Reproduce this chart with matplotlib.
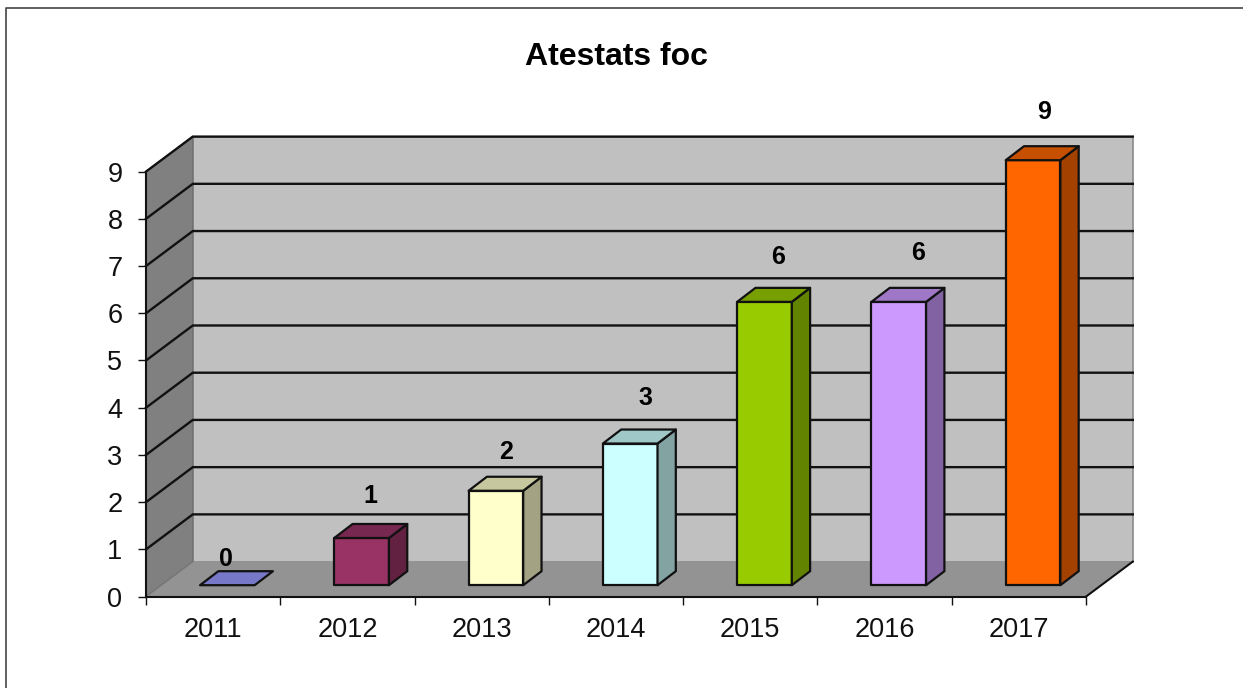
import matplotlib
matplotlib.use('Agg')
import matplotlib.pyplot as plt
from matplotlib.lines import Line2D
from matplotlib.patches import Polygon
from matplotlib.colors import to_rgb

plt.rcParams['font.family'] = ['Liberation Sans', 'DejaVu Sans']

# Data
years = ['2011', '2012', '2013', '2014', '2015', '2016', '2017']
values = [0, 1, 2, 3, 6, 6, 9]
colors = ['#7878c8', '#993366', '#ffffcc', '#ccffff', '#99cc00', '#cc99ff', '#ff6600']

# Pixel size of the picture and of the front face of the axes
W, H = 1243, 688
X0, X1, Y0, Y9 = 146, 1086, 596.6, 171.6

# Depth of the fake 3D box and of the bars, in data units
DX = 46.8 / ((X1 - X0) / 7)
DY = 35 / ((Y0 - Y9) / 9)
BAR_W = 0.407
BAR_X = 14.2 / ((X1 - X0) / 7)
BAR_Y = 11.4 / ((Y0 - Y9) / 9)
BAR_DX = 18.3 / ((X1 - X0) / 7)
BAR_DY = 14 / ((Y0 - Y9) / 9)

# Label nudges in pixels, measured from the front top centre of each bar
label_dx = [-1, 9, 10, 15, 14, 19, 11]
label_dy = [26, 42, 39, 46, 45, 49, 48]

fig = plt.figure(figsize=(W / 100, H / 100), dpi=100)
ax = fig.add_axes([X0 / W, (H - Y0) / H, (X1 - X0) / W, (Y0 - Y9) / H])
ax.set_xlim(0, 7)
ax.set_ylim(0, 9)
ax.patch.set_visible(False)


def poly(pts, face, edge='none', lw=0.0, z=1):
    ax.add_patch(Polygon(pts, closed=True, facecolor=face, edgecolor=edge,
                         linewidth=lw, zorder=z, clip_on=False, joinstyle='round'))


def shade(c, f):
    return tuple(v * f for v in to_rgb(c))


# Walls and floor
poly([(DX, DY), (7 + DX, DY), (7 + DX, 9 + DY), (DX, 9 + DY)], '#c0c0c0', '#8a8a8a', 1.2)
poly([(0, 0), (DX, DY), (DX, 9 + DY), (0, 9)], '#808080', '#707070', 1.0)
poly([(0, 0), (7, 0), (7 + DX, DY), (DX, DY)], '#939393')

# Gridlines run along the left wall and then the back wall
for v in range(1, 10):
    ax.plot([0, DX, 7 + DX], [v, v + DY, v + DY], color='#111111', lw=1.7,
            zorder=2, clip_on=False, solid_joinstyle='miter')
ax.plot([7, 7 + DX], [0, DY], color='#111111', lw=1.5, zorder=2, clip_on=False)
ax.plot([0, DX], [0, DY], color='#777777', lw=1.0, zorder=2, clip_on=False)

# Bars
for i, (val, col) in enumerate(zip(values, colors)):
    left = i + 0.5 - BAR_W / 2 + BAR_X
    right = left + BAR_W
    base = BAR_Y
    top = base + val
    if val > 0:
        poly([(left, base), (right, base), (right, top), (left, top)], col, '#111111', 1.6, 3)
        poly([(right, base), (right + BAR_DX, base + BAR_DY),
              (right + BAR_DX, top + BAR_DY), (right, top)], shade(col, 0.64), '#111111', 1.6, 3)
        top_col = shade(col, 0.78)
    else:
        top_col = col
    poly([(left, top), (right, top), (right + BAR_DX, top + BAR_DY),
          (left + BAR_DX, top + BAR_DY)], top_col, '#111111', 1.6, 3)
    ax.annotate(str(val), xy=((left + right) / 2, top), xytext=(label_dx[i] * 0.72, label_dy[i] * 0.72),
                textcoords='offset points', ha='center', va='center', annotation_clip=False,
                fontsize=18, fontweight='bold', color='black', zorder=5)

# Axes
for side in ['top', 'right']:
    ax.spines[side].set_visible(False)
for side in ['left', 'bottom']:
    ax.spines[side].set_linewidth(1.5)
    ax.spines[side].set_color('#111111')
    ax.spines[side].set_zorder(4)
ax.set_xticks(range(8))
ax.set_xticklabels([])
ax.set_xticks([i + 0.5 for i in range(7)], labels=years, minor=True)
ax.set_yticks(range(10))
ax.tick_params(axis='x', which='major', length=6, width=1, color='#111111')
ax.tick_params(axis='x', which='minor', length=0, pad=15, labelsize=19.5, labelcolor='#111111')
ax.tick_params(axis='y', length=6, width=1, color='#111111', pad=11, labelsize=19.5, labelcolor='#111111')

fig.text(616.5 / W, 1 - 57 / H, 'Atestats foc', ha='center', va='center',
         fontsize=23, fontweight='bold', color='black')

# Outer frame: only the left and top edges fall inside the picture
fig.add_artist(Line2D([5.5 / W, 5.5 / W, 1], [0, 1 - 8 / H, 1 - 8 / H], color='#444444', lw=1.2))

fig.savefig('out.png', dpi=100)
